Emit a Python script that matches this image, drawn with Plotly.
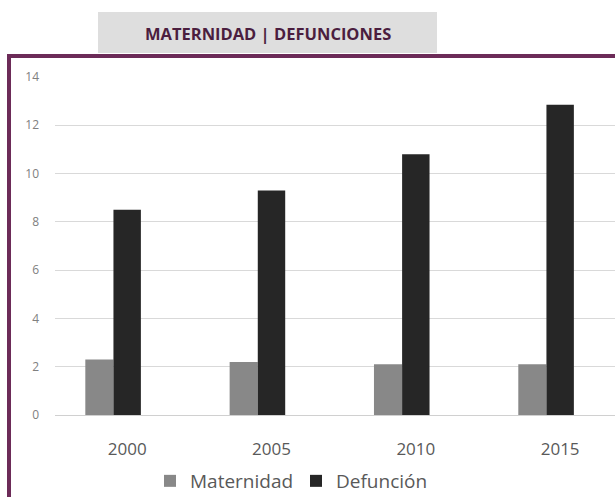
import plotly.graph_objects as go

# Data
years = ["2000", "2005", "2010", "2015"]
maternidad = [2.3, 2.2, 2.1, 2.1]
defuncion = [8.5, 9.3, 10.8, 12.85]
y_ticks = [0, 2, 4, 6, 8, 10, 12, 14]

W, H = 615, 497
L, R, T, B = 55, 0, 77, 82
plot_w = W - L - R
plot_h = H - T - B


def px_x(x):
    return (x - L) / plot_w


def px_y(y):
    return (H - B - y) / plot_h


FONT = "Open Sans"
PURPLE = "#6c2b58"

fig = go.Figure()
fig.add_trace(go.Bar(
    x=years, y=maternidad, name="Maternidad",
    marker=dict(color="#888888", line=dict(width=0)),
    width=0.195, offset=-0.29,
))
fig.add_trace(go.Bar(
    x=years, y=defuncion, name="Defunción",
    marker=dict(color="#262626", line=dict(width=0)),
    width=0.19, offset=-0.095,
))

shapes = [
    # title band
    dict(type="rect", xref="paper", yref="paper",
         x0=px_x(98), x1=px_x(437), y0=px_y(53), y1=px_y(12),
         fillcolor="#dedede", line=dict(width=0), layer="below"),
    # chart frame
    dict(type="rect", xref="paper", yref="paper",
         x0=px_x(9), x1=px_x(640), y0=px_y(540), y1=px_y(56),
         fillcolor="rgba(0,0,0,0)", line=dict(color=PURPLE, width=4),
         layer="above"),
]

fig.update_layout(
    width=W, height=H,
    margin=dict(l=L, r=R, t=T, b=B, autoexpand=False),
    paper_bgcolor="white", plot_bgcolor="white",
    barmode="overlay",
    showlegend=True,
    legend=dict(orientation="h", x=px_x(150), y=px_y(481), xanchor="left",
                yanchor="middle", font=dict(family=FONT, size=19, color="#595959"),
                itemwidth=30, traceorder="normal", entrywidthmode="pixels",
                entrywidth=101, bgcolor="rgba(0,0,0,0)"),
    shapes=shapes,
    annotations=[dict(text="<b>MATERNIDAD | DEFUNCIONES</b>", xref="paper",
                      yref="paper", x=px_x(268), y=px_y(34), showarrow=False,
                      xanchor="center", yanchor="middle",
                      font=dict(family=FONT, size=16.5, color="#4b1e3f"))],
    font=dict(family=FONT),
)
fig.update_xaxes(
    type="category", range=[-0.5, 3.38], showgrid=False, showline=False,
    ticks="", tickfont=dict(family=FONT, size=17, color="#595959"),
    ticklabelstandoff=22, fixedrange=True,
)
fig.update_yaxes(
    range=[0, 14], tickvals=y_ticks, showgrid=True, gridcolor="#d9d9d9",
    gridwidth=1, zeroline=True, zerolinecolor="#d0d0d0", zerolinewidth=1,
    showline=False, ticks="",
    tickfont=dict(family=FONT, size=12, color="#808080"),
    ticklabelstandoff=15, fixedrange=True,
)

fig.write_html("out.html")
